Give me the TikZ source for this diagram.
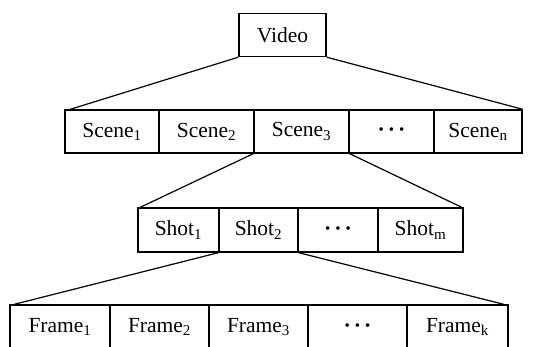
\documentclass[tikz,border=0pt]{standalone}
\usepackage{fontspec}
\setmainfont{Liberation Serif}
\begin{document}
\begin{tikzpicture}[x=1pt,y=-1pt,
  cell/.style={draw, line width=1.4pt, rectangle, inner sep=0pt, font=\fontsize{21.5}{23}\selectfont},
  link/.style={line width=1.2pt}]
\clip (0,0) rectangle (545,347);
\newcommand{\dotsrow}{\raisebox{-5pt}{\fontsize{15}{15}\selectfont •\hspace{5pt}•\hspace{5pt}•}}
% top
\node[cell, minimum width=87pt, minimum height=43pt] (video) at (282.5,35) {Video};
% scenes
\node[cell, minimum width=94pt, minimum height=43pt] (sc1) at (112,131.5) {Scene\textsubscript{1}};
\node[cell, minimum width=95pt, minimum height=43pt] (sc2) at (206.5,131.5) {Scene\textsubscript{2}};
\node[cell, minimum width=95pt, minimum height=43pt] (sc3) at (301.5,131.5) {Scene\textsubscript{3}};
\node[cell, minimum width=85pt, minimum height=43pt] (scd) at (391.5,131.5) {\dotsrow};
\node[cell, minimum width=88pt, minimum height=43pt] (scn) at (478,131.5) {Scene\textsubscript{n}};
% shots
\node[cell, minimum width=81pt, minimum height=44pt] (sh1) at (178.5,230) {Shot\textsubscript{1}};
\node[cell, minimum width=79pt, minimum height=44pt] (sh2) at (258.5,230) {Shot\textsubscript{2}};
\node[cell, minimum width=80pt, minimum height=44pt] (shd) at (338,230) {\dotsrow};
\node[cell, minimum width=85pt, minimum height=44pt] (shm) at (420.5,230) {Shot\textsubscript{m}};
% frames
\node[cell, minimum width=100pt, minimum height=44pt] (fr1) at (60,327) {Frame\textsubscript{1}};
\node[cell, minimum width=99pt, minimum height=44pt] (fr2) at (159.5,327) {Frame\textsubscript{2}};
\node[cell, minimum width=99pt, minimum height=44pt] (fr3) at (258.5,327) {Frame\textsubscript{3}};
\node[cell, minimum width=99pt, minimum height=44pt] (frd) at (357.5,327) {\dotsrow};
\node[cell, minimum width=101pt, minimum height=44pt] (frk) at (457.5,327) {Frame\textsubscript{k}};
% connectors
\draw[link] (video.south west) -- ([xshift=6pt]sc1.north west);
\draw[link] (video.south east) -- (scn.north east);
\draw[link] (sc3.south west) -- ([xshift=3pt]sh1.north west);
\draw[link] (sc3.south east) -- ([xshift=-2pt]shm.north east);
\draw[link] (sh2.south west) -- ([xshift=5pt]fr1.north west);
\draw[link] (sh2.south east) -- ([xshift=-5pt]frk.north east);
\end{tikzpicture}
\end{document}
